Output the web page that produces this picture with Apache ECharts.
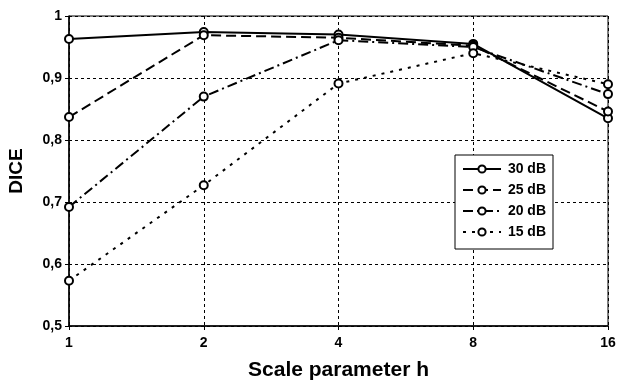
<!DOCTYPE html>
<html>
<head>
<meta charset="utf-8">
<script src="https://cdn.jsdelivr.net/npm/echarts@6/dist/echarts.min.js"></script>
<style>
  html, body { margin: 0; padding: 0; background: #fff; }
  #chart { width: 619px; height: 383px; }
</style>
</head>
<body>
<div id="chart"></div>
<script>
const scaleParams = ["1", "2", "4", "8", "16"];
const db30 = [0.963, 0.974, 0.970, 0.955, 0.835];
const db25 = [0.837, 0.969, 0.965, 0.952, 0.846];
const db20 = [0.692, 0.870, 0.961, 0.950, 0.874];
const db15 = [0.573, 0.727, 0.891, 0.940, 0.890];
const seriesNames = ["30 dB", "25 dB", "20 dB", "15 dB"];

const chart = echarts.init(document.getElementById("chart"), null, { renderer: "canvas" });

const font = "Liberation Sans, Arial, sans-serif";

const mkSeries = (name, data, dash) => ({
  name: name,
  type: "line",
  data: data,
  symbol: "emptyCircle",
  symbolSize: 8,
  itemStyle: { color: "#000", borderWidth: 1 },
  lineStyle: { color: "#000", width: 2, type: dash },
  emphasis: { disabled: true },
});

chart.setOption({
  animation: false,
  grid: {
    left: 69, right: 11, top: 16, bottom: 57,
    outerBoundsMode: "none",
    show: true, borderColor: "#000", borderWidth: 1,
  },
  legend: {
    orient: "vertical",
    left: 455, top: 155,
    padding: [7, 7, 10, 7],
    itemGap: 7,
    itemWidth: 38,
    itemHeight: 9,
    backgroundColor: "#fff",
    borderColor: "#000",
    borderWidth: 1,
    formatter: (name) => "{t|" + name + "}",
    textStyle: {
      color: "#000",
      rich: { t: { fontFamily: font, fontWeight: "bold", fontSize: 14, lineHeight: 16, color: "#000", width: 40, align: "right" } },
    },
    data: seriesNames,
  },
  xAxis: {
    type: "category",
    data: scaleParams,
    boundaryGap: false,
    name: "Scale parameter h",
    nameLocation: "middle",
    nameGap: 34,
    nameTextStyle: { fontFamily: font, fontWeight: "bold", fontSize: 21, color: "#000" },
    axisLine: { lineStyle: { color: "#000", width: 1.5 } },
    axisTick: { show: true, length: 4, alignWithLabel: true, lineStyle: { color: "#000" } },
    axisLabel: { fontFamily: font, fontWeight: "bold", fontSize: 14, color: "#000", margin: 10 },
    splitLine: { show: true, lineStyle: { color: "#000", width: 1, type: [3, 3] } },
  },
  yAxis: {
    type: "value",
    min: 0.5,
    max: 1,
    interval: 0.1,
    name: "DICE",
    nameLocation: "middle",
    nameGap: 43,
    nameTextStyle: { fontFamily: font, fontWeight: "bold", fontSize: 19, color: "#000" },
    axisLine: { show: true, lineStyle: { color: "#000", width: 1.5 } },
    axisTick: { show: true, length: 4, lineStyle: { color: "#000" } },
    axisLabel: {
      fontFamily: font, fontWeight: "bold", fontSize: 14, color: "#000", margin: 7,
      formatter: (v) => (Math.abs(v - 1) < 1e-9 ? "1" : v.toFixed(1).replace(".", ",")),
    },
    splitLine: { show: true, lineStyle: { color: "#000", width: 1, type: [3, 3] } },
  },
  series: [
    mkSeries(seriesNames[0], db30, "solid"),
    mkSeries(seriesNames[1], db25, [10, 5]),
    mkSeries(seriesNames[2], db20, [10, 4, 2, 4]),
    mkSeries(seriesNames[3], db15, [3, 6]),
  ],
});
</script>
</body>
</html>
